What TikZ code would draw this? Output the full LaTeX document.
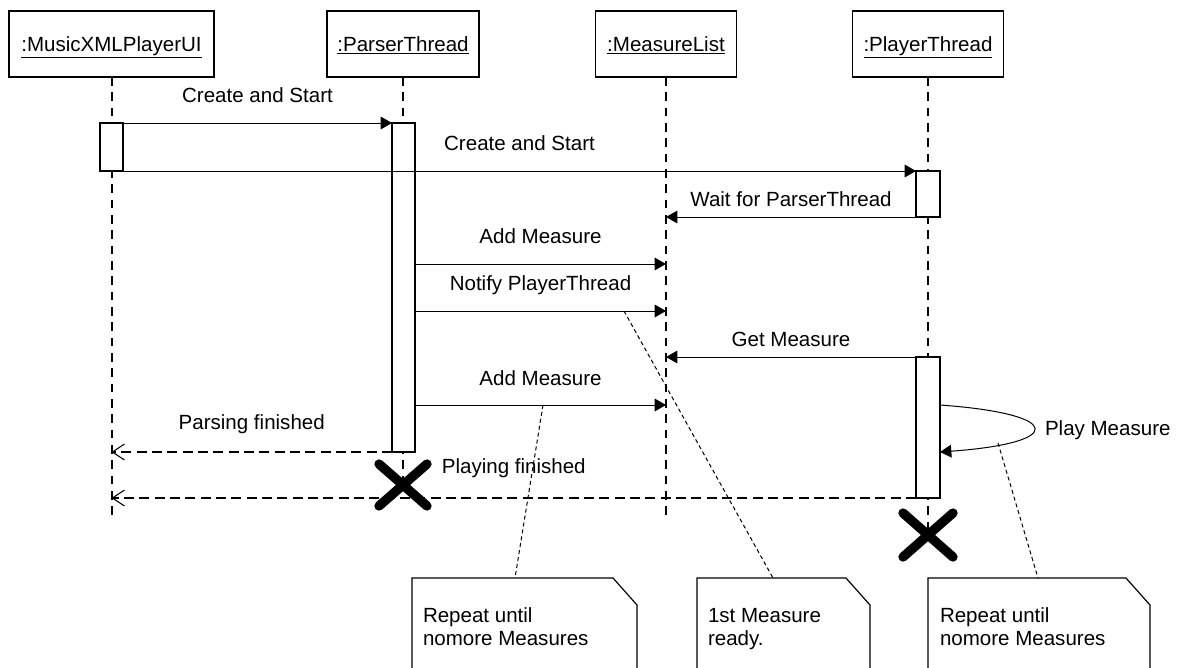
\documentclass[tikz,border=0pt]{standalone}
\usepackage{fontspec}
\setmainfont{Liberation Sans}
\usetikzlibrary{arrows.meta}
\begin{document}
\begin{tikzpicture}[x=0.75pt,y=-0.75pt,
  every node/.style={font=\fontsize{15.4}{17.25}\selectfont, inner sep=0pt, outer sep=0pt},
  head/.style={draw, line width=0.9pt, fill=white, minimum height=49.5pt, text height=11pt, text depth=0pt},
  actbox/.style={draw, line width=0.9pt, fill=white},
  lifeline/.style={line width=1.5pt, dash pattern=on 6.5pt off 5pt},
  call/.style={line width=0.75pt, -{Triangle[length=8.5pt,width=9.5pt]}},
  reply/.style={line width=1.2pt, dash pattern=on 7.5pt off 4pt, -{Straight Barb[length=9pt,width=12pt,line width=0.8pt]}},
  msglabel/.style={text height=11pt, text depth=0pt},
  destroy/.style={line width=7pt, line cap=round},
  notebox/.style={draw, line width=0.9pt, fill=white, line join=miter},
  noteline/.style={line width=0.75pt, dash pattern=on 3pt off 2.25pt},
  notetext/.style={align=left, anchor=north west}
]
\clip (0,0) rectangle (1183,668);

% object headers
\node[head, minimum width=153.75pt] (ui) at (111.5,44) {\underline{:MusicXMLPlayerUI}};
\node[head, minimum width=114pt]    (pt) at (403,44)   {\underline{:ParserThread}};
\node[head, minimum width=105.75pt] (ml) at (666,44)   {\underline{:MeasureList}};
\node[head, minimum width=113.25pt] (pl) at (928,44)   {\underline{:PlayerThread}};

% lifeline ends and message rows
\coordinate (ptx) at (403,485);
\coordinate (plx) at (928,535);
\coordinate (lend) at (0,520);
\coordinate (r4) at (0,264);
\coordinate (r5) at (0,311);
\coordinate (r7) at (0,405);

% lifelines
\draw[lifeline] (ui.south) -- (ui.south |- lend);
\draw[lifeline] (pt.south) -- (ptx);
\draw[lifeline] (ml.south) -- (ml.south |- lend);
\draw[lifeline] (pl.south) -- (plx);

% activation bars
\node[actbox, minimum width=17.25pt, minimum height=36pt]     (uiact)  at (111.5,147)   {};
\node[actbox, minimum width=17.25pt, minimum height=246.75pt] (ptact)  at (403.5,287.5) {};
\node[actbox, minimum width=18pt,    minimum height=34.5pt]   (plact1) at (928,194)     {};
\node[actbox, minimum width=18pt,    minimum height=105.75pt] (plact2) at (928,427.5)   {};

% messages
\draw[call] (uiact.north east) -- node[msglabel, yshift=21pt] (l1) {Create and Start} (ptact.north west);
\draw[call] (uiact.south east) -- node[msglabel, yshift=21pt] (l2) {Create and Start} (plact1.north west);
\draw[call] (plact1.south west) -- node[msglabel, yshift=13.5pt] (l3) {Wait for ParserThread} (ml.south |- plact1.south west);
\draw[call] (ptact.east |- r4) -- node[msglabel, yshift=21pt] (l4) {Add Measure} (ml.south |- r4);
\draw[call] (ptact.east |- r5) -- node[msglabel, yshift=21pt] (l5) {Notify PlayerThread} (ml.south |- r5);
\draw[call] (plact2.north west) -- node[msglabel, yshift=13.5pt] (l6) {Get Measure} (ml.south |- plact2.north west);
\draw[call] (ptact.east |- r7) -- node[msglabel, yshift=20.25pt] (l7) {Add Measure} (ml.south |- r7);
\draw[reply] (ptact.south west) -- node[msglabel, yshift=22.5pt] (l8) {Parsing finished} (ui.south |- ptact.south west);
\draw[reply] (plact2.south west) -- node[msglabel, yshift=24pt] (l9) {Playing finished} (ui.south |- plact2.south west);

% self call
\draw[call] (plact2.east |- r7) .. controls (1065,414) and (1065,443) .. (plact2.east |- ptact.south);
\node[msglabel, anchor=west] (l10) at (1045,428) {Play Measure};

% destruction marks
\draw[destroy] ([shift={(-24,-21)}]ptx) -- ([shift={(24,21)}]ptx);
\draw[destroy] ([shift={(-24,21)}]ptx) -- ([shift={(24,-21)}]ptx);
\draw[destroy] ([shift={(-25,-22)}]plx) -- ([shift={(25,22)}]plx);
\draw[destroy] ([shift={(-25,22)}]plx) -- ([shift={(25,-22)}]plx);

% note anchors
\coordinate (n1a) at (543,405);
\coordinate (n1b) at (515,578);
\coordinate (n2a) at (624,311);
\coordinate (n2b) at (773,578);
\coordinate (n3a) at (998,443);
\coordinate (n3b) at (1038,578);
\draw[noteline] (n1a) -- (n1b);
\draw[noteline] (n2a) -- (n2b);
\draw[noteline] (n3a) -- (n3b);

% notes
\draw[notebox] (412,672) -- (412,578) -- (613,578) -- (637,605) -- (637,672);
\draw[notebox] (697,672) -- (697,578) -- (846,578) -- (870,605) -- (870,672);
\draw[notebox] (928,672) -- (928,578) -- (1126,578) -- (1150,605) -- (1150,672);
\node[notetext] (t1) at (423,608) {Repeat until\\nomore Measures};
\node[notetext] (t2) at (708,608) {1st Measure\\ready.};
\node[notetext] (t3) at (940,608) {Repeat until\\nomore Measures};
\end{tikzpicture}
\end{document}
